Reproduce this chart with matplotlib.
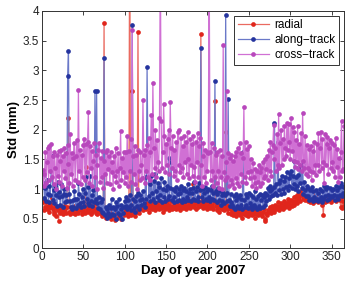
import numpy as np
import matplotlib
matplotlib.use("Agg")
import matplotlib.pyplot as plt

plt.rcParams['font.family'] = ['Liberation Sans', 'DejaVu Sans']

radial = [
 0.78,0.80,0.64,0.70,0.79,0.66,0.72,0.62,0.68,0.75,
 0.70,0.85,0.66,0.58,0.62,0.72,0.55,0.68,0.65,0.47,
 0.66,0.60,0.70,0.64,0.58,0.72,0.62,0.66,0.60,0.70,
 1.62,2.20,0.62,0.58,0.70,0.64,0.66,0.60,0.72,0.58,
 0.66,0.62,0.74,0.60,0.68,0.64,0.70,0.58,0.62,0.66,
 0.72,0.60,1.38,0.64,0.70,0.62,0.66,0.74,0.58,0.68,
 0.62,0.70,0.64,0.76,0.60,0.66,0.58,0.72,0.64,0.60,
 0.66,0.54,0.60,0.58,3.79,0.62,0.52,0.56,0.60,0.64,
 0.58,0.62,0.50,0.56,0.60,0.54,0.66,0.48,0.58,0.62,
 0.52,0.60,0.56,0.64,0.50,0.58,0.62,0.66,0.56,0.60,
 0.64,0.58,0.62,0.54,0.60,6.00,0.56,0.60,2.66,0.62,
 0.58,0.66,0.54,0.70,0.62,3.64,0.60,0.66,0.72,0.68,
 0.70,0.64,0.74,0.68,0.72,0.66,0.76,0.70,0.62,0.74,
 0.68,0.72,0.66,0.78,0.70,0.64,0.74,0.68,0.76,0.70,
 0.66,0.72,0.80,0.68,0.74,0.62,0.70,0.76,0.66,0.72,
 0.78,0.68,0.64,0.74,0.70,0.80,0.66,0.72,0.68,0.76,
 0.70,0.66,0.74,0.80,0.68,0.72,0.64,0.76,0.70,0.82,
 0.68,0.74,0.78,0.66,0.72,0.84,0.70,0.76,0.68,0.74,
 0.80,0.72,1.08,0.70,0.76,0.66,0.82,0.74,0.70,0.78,
 0.72,3.62,0.76,0.68,0.82,0.74,0.70,0.78,0.66,0.80,
 0.72,0.76,0.68,0.84,0.70,0.74,0.66,0.78,2.49,0.72,
 0.64,0.76,0.70,0.62,0.74,0.68,0.80,0.66,0.72,0.64,
 0.70,1.96,0.66,0.74,0.60,0.68,0.72,0.58,0.66,0.62,
 0.56,0.64,0.60,0.54,0.66,0.58,0.62,0.70,0.56,0.64,
 0.60,0.52,0.66,0.58,0.62,0.56,0.68,0.60,0.54,0.64,
 0.58,0.62,0.70,0.56,0.64,0.60,0.52,0.66,0.58,0.62,
 0.56,0.64,0.60,0.68,0.58,0.54,0.62,0.66,0.50,0.46,
 0.60,0.56,0.64,0.62,0.70,0.66,0.60,0.72,0.64,0.68,
 0.62,0.74,0.66,0.70,0.78,0.64,0.72,0.68,0.76,0.70,
 0.66,0.74,0.80,0.70,0.76,0.72,0.84,0.68,0.78,0.74,
 0.82,0.72,0.78,0.86,0.74,0.80,0.88,0.76,0.84,0.92,
 0.86,0.80,0.96,0.90,0.84,1.00,0.88,0.82,0.92,0.86,
 0.80,0.88,0.84,0.78,0.86,0.82,0.90,0.76,0.84,0.80,
 0.86,0.82,0.78,0.88,0.84,0.80,0.86,0.74,0.82,0.56,
 0.84,0.78,0.90,0.86,0.80,0.88,0.84,0.92,0.78,0.86,
 0.82,0.90,0.84,0.88,0.80,0.86,0.92,0.84,0.88,0.82,
 0.70,0.86,0.68,0.80,0.72,
]

along_track = [
 1.22,1.10,0.85,1.02,0.80,1.15,0.92,0.78,1.05,0.90,
 1.30,1.56,0.82,0.98,0.76,1.05,0.90,0.72,1.12,0.86,
 0.95,0.74,1.08,0.88,0.70,0.92,1.00,0.78,0.90,0.80,
 2.91,3.33,0.92,0.80,0.70,0.66,0.82,0.70,0.96,0.84,
 0.68,0.84,0.74,1.10,0.92,0.76,0.70,0.86,1.00,0.78,
 0.72,0.94,1.20,0.84,0.76,1.04,0.74,1.22,0.80,0.90,
 0.72,0.98,0.78,2.65,0.84,2.66,0.76,0.68,0.86,0.66,
 0.78,0.62,0.84,0.60,3.20,0.56,0.70,0.52,0.66,0.60,
 0.74,0.54,0.68,0.84,0.58,0.70,0.56,0.66,0.78,0.50,
 0.72,0.60,0.84,0.56,0.66,0.74,0.50,0.60,0.70,0.80,
 0.72,0.86,0.66,0.82,0.70,0.90,0.74,0.64,3.76,0.84,
 0.68,0.80,0.62,0.88,0.72,0.94,0.66,0.82,0.90,0.74,
 0.84,0.96,0.76,0.70,1.20,0.84,3.06,1.56,0.88,1.08,
 0.80,1.22,0.94,0.84,1.14,0.78,1.26,0.96,0.86,1.10,
 0.82,1.04,0.90,1.18,0.78,1.00,0.86,1.12,0.80,0.98,
 1.06,0.84,1.52,0.88,1.02,1.46,0.82,1.00,0.86,0.78,
 0.96,1.04,0.80,0.92,1.00,0.82,0.94,1.06,0.78,0.98,
 0.84,1.02,0.80,0.96,0.86,1.08,0.82,0.94,1.00,0.80,
 0.94,1.02,0.84,1.12,0.82,0.96,1.04,0.86,0.80,1.10,
 0.98,3.38,0.86,1.00,0.80,0.94,1.04,0.84,0.96,0.82,
 1.00,0.86,0.80,0.98,1.06,0.84,0.94,0.82,2.82,0.96,
 0.78,0.92,1.02,0.82,0.96,0.74,0.90,0.80,0.94,0.76,
 0.90,3.94,0.80,0.94,2.52,0.82,0.72,0.92,0.78,0.74,
 0.70,0.88,0.66,0.82,0.92,0.72,0.86,0.68,0.90,0.74,
 0.84,0.66,1.62,0.82,0.70,0.92,0.74,0.86,0.68,0.94,
 0.76,0.72,0.90,0.66,0.86,0.74,0.96,0.70,0.84,0.66,
 0.88,0.72,0.92,0.68,0.82,0.90,0.70,0.86,0.74,0.94,
 0.80,0.90,1.02,0.84,0.96,1.06,0.88,1.00,0.90,1.04,
 2.12,0.94,1.08,0.90,1.80,1.10,0.98,1.16,0.92,1.22,
 1.00,1.14,0.94,1.20,1.04,1.28,0.98,1.18,1.06,1.26,
 1.30,1.02,1.22,1.08,1.48,1.00,1.20,1.06,1.24,0.96,
 1.38,1.10,1.40,1.02,1.42,0.92,1.12,0.98,0.88,1.06,
 0.88,1.02,0.82,0.98,0.84,1.04,0.80,0.96,0.86,0.82,
 0.98,0.84,0.80,0.94,0.82,1.00,0.86,0.78,0.96,0.84,
 1.06,0.88,1.00,0.82,1.04,0.90,0.84,1.02,0.88,0.98,
 0.86,1.00,0.90,0.82,1.06,0.88,0.98,0.84,1.04,0.90,
 1.10,0.88,1.06,0.94,1.04,
]

cross_track = [
 1.32,1.05,1.25,1.62,1.10,1.45,1.70,1.15,1.72,1.30,
 1.76,1.20,1.55,1.08,1.62,1.35,1.00,1.58,1.22,1.64,
 1.12,1.48,1.66,1.05,1.55,1.30,1.70,1.18,1.60,1.02,
 1.42,1.74,1.10,1.93,1.25,1.60,1.05,1.52,1.78,1.15,
 1.56,1.82,1.12,2.67,1.30,1.66,1.08,1.58,1.20,1.74,
 1.84,1.15,1.76,1.28,1.80,2.30,1.10,1.72,1.35,1.64,
 1.05,1.48,1.78,1.20,1.58,1.00,1.40,1.66,1.78,1.12,
 1.52,1.20,1.64,1.02,1.48,1.25,1.62,1.10,1.66,1.34,
 1.56,1.08,1.62,1.28,1.46,1.00,1.56,1.22,1.70,1.12,
 1.30,1.60,1.05,1.36,1.98,1.15,1.52,1.28,1.62,1.10,
 1.62,1.20,1.90,1.05,1.64,1.30,1.84,1.12,3.68,1.56,
 1.25,1.72,1.08,1.58,1.00,1.66,1.30,1.15,1.62,1.40,
 1.18,2.50,1.58,1.10,1.66,1.30,1.74,1.20,1.86,1.15,
 1.62,2.24,1.25,2.78,1.70,1.35,2.00,1.20,1.82,1.45,
 1.30,2.20,5.00,2.14,1.36,1.62,2.44,1.90,1.28,1.76,
 1.40,1.84,2.00,1.25,2.47,1.70,1.35,1.90,1.22,1.66,
 1.30,1.80,1.15,1.96,2.00,1.40,1.28,1.86,1.36,1.72,
 1.20,1.90,1.45,1.80,1.25,1.96,1.50,1.18,1.84,1.40,
 1.76,1.22,1.90,1.38,1.12,1.80,1.46,1.94,1.20,1.72,
 1.86,1.40,1.05,1.56,1.78,1.20,1.66,1.10,1.62,1.30,
 1.60,5.00,1.62,1.15,1.78,1.30,1.05,1.70,1.20,1.58,
 1.10,1.62,1.30,1.02,1.66,1.20,1.56,1.00,3.43,1.28,
 1.15,1.46,2.65,1.20,1.60,1.05,1.52,1.15,1.58,1.08,
 1.48,1.02,1.56,1.18,1.62,1.10,1.70,1.05,1.78,1.25,
 1.60,1.12,1.52,2.38,1.20,1.80,1.10,1.68,1.28,1.72,
 1.18,1.50,1.30,1.05,1.44,1.20,1.10,1.34,1.02,1.30,
 1.12,1.40,1.06,1.28,1.36,1.10,1.46,1.18,1.50,1.22,
 1.34,1.56,1.15,1.66,1.30,1.80,1.22,1.62,1.74,2.08,
 1.50,1.70,1.30,1.92,1.40,2.26,1.35,1.78,2.00,1.40,
 1.84,1.50,2.06,1.70,1.55,2.12,1.66,2.10,1.80,1.50,
 2.20,1.65,2.04,1.48,1.96,1.38,1.82,1.45,2.06,1.34,
 1.76,1.40,1.94,1.30,2.28,1.48,1.36,1.90,1.25,1.74,
 1.36,1.22,1.68,1.30,1.72,1.15,1.64,1.28,1.80,1.40,
 1.24,1.76,1.40,1.94,1.30,1.70,1.96,1.35,1.84,1.45,
 1.10,1.92,1.40,1.76,1.88,1.25,1.70,1.82,1.35,1.78,
 1.45,1.30,1.74,1.20,1.86,1.38,1.68,1.12,1.52,1.20,
 1.62,2.15,1.30,1.34,2.06,
]

days = np.arange(1, len(radial) + 1)

fig = plt.figure(figsize=(3.48, 2.81), dpi=100)
ax = fig.add_axes([0.1207, 0.1157, 0.8678, 0.8453])

series = [
    (radial, 'radial', '#ea6a60', '#e0261c'),
    (along_track, 'along\u2212track', '#6a78c8', '#25349e'),
    (cross_track, 'cross\u2212track', '#d070d4', '#b847bc'),
]
for vals, lab, lc, mc in series:
    ax.plot(days, vals, '-', color=lc, lw=0.9, marker='o', ms=3.4,
            mfc=mc, mec=mc, mew=0, label=lab)

ax.set_xlim(0, 365)
ax.set_ylim(0, 4)
ax.set_xticks(np.arange(0, 351, 50))
ax.set_yticks(np.arange(0, 4.01, 0.5))
ax.set_yticklabels(['0', '0.5', '1', '1.5', '2', '2.5', '3', '3.5', '4'])
ax.tick_params(direction='in', top=True, right=True, length=3, width=0.6,
               labelsize=8.5, colors='#222222', pad=2)
for s in ax.spines.values():
    s.set_linewidth(0.7)
    s.set_color('#333333')

ax.set_xlabel('Day of year 2007', fontsize=9.5, fontweight='bold', labelpad=1)
ax.set_ylabel('Std (mm)', fontsize=9.5, fontweight='bold', labelpad=2)

leg = ax.legend(loc='upper right', fontsize=8.5, fancybox=False, framealpha=1,
                edgecolor='#333333', handlelength=2.6, borderpad=0.3,
                labelspacing=0.25, handletextpad=0.5, borderaxespad=0.4)
leg.get_frame().set_linewidth(0.7)

fig.savefig('out.png', dpi=100)
